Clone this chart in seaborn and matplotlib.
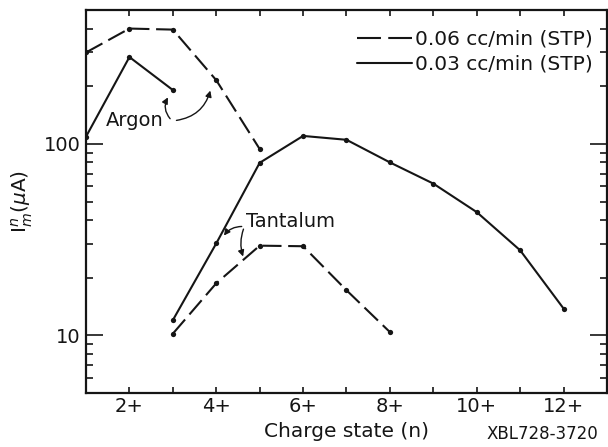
import numpy as np
import pandas as pd
import matplotlib
matplotlib.use("Agg")
import matplotlib.pyplot as plt
import seaborn as sns
from matplotlib.lines import Line2D
from matplotlib.ticker import LogLocator, NullFormatter, FixedLocator, FixedFormatter

# ---- data ----
argon_n_006 = [1, 2, 3, 4, 5]
argon_I_006 = [300, 400, 395, 215, 94]
argon_n_003 = [1, 2, 3]
argon_I_003 = [109, 284, 191]
tant_n_003 = [3, 4, 5, 6, 7, 8, 9, 10, 11, 12]
tant_I_003 = [12.0, 30.2, 79.6, 110, 105, 80, 62, 44, 27.8, 13.8]
tant_n_006 = [3, 4, 5, 6, 7, 8]
tant_I_006 = [10.2, 18.7, 29.4, 29.2, 17.2, 10.4]

x_ticks = [2, 4, 6, 8, 10, 12]
x_ticklabels = ["2+", "4+", "6+", "8+", "10+", "12+"]
y_ticks = [10, 100]
y_ticklabels = ["10", "100"]
legend_labels = ["0.06 cc/min (STP)", "0.03 cc/min (STP)"]

sns.set_style("ticks")
plt.rcParams["font.family"] = ["DejaVu Sans"]

ink = "#151515"
fig = plt.figure(figsize=(6.08, 4.47), dpi=100)
ax = fig.add_axes([86 / 608, 1 - 393 / 447, (607 - 86) / 608, (393 - 10) / 447])

dash = (9, 3.2)
lw = 1.5
ms = 3.8

def draw(xs, ys, dashed):
    df = pd.DataFrame({"n": xs, "I": ys})
    sns.lineplot(data=df, x="n", y="I", ax=ax, color=ink, lw=lw,
                 marker="o", markersize=ms, markeredgewidth=0,
                 estimator=None, legend=False,
                 dashes=False)
    line = ax.lines[-1]
    if dashed:
        line.set_dashes(dash)

draw(argon_n_006, argon_I_006, True)
draw(argon_n_003, argon_I_003, False)
draw(tant_n_003, tant_I_003, False)
draw(tant_n_006, tant_I_006, True)

ax.set_yscale("log")
ax.set_xlim(1, 13)
ax.set_ylim(5, 500)

ax.xaxis.set_major_locator(FixedLocator(x_ticks))
ax.xaxis.set_major_formatter(FixedFormatter(x_ticklabels))
ax.xaxis.set_minor_locator(FixedLocator(list(range(1, 14, 2))))
ax.yaxis.set_major_locator(FixedLocator(y_ticks))
ax.yaxis.set_major_formatter(FixedFormatter(y_ticklabels))
ax.yaxis.set_minor_locator(LogLocator(base=10, subs=np.arange(2, 10)))
ax.yaxis.set_minor_formatter(NullFormatter())

ax.tick_params(axis="x", which="both", direction="in", length=4.5, width=1.2,
               top=True, bottom=True, labelsize=14, pad=3, colors=ink)
ax.tick_params(axis="y", which="major", direction="in", length=12, width=1.2,
               left=True, right=True, labelsize=14, pad=4, colors=ink)
ax.tick_params(axis="y", which="minor", direction="in", length=5, width=1.2,
               left=True, right=True, colors=ink)
for s in ax.spines.values():
    s.set_linewidth(1.6)
    s.set_color(ink)

ax.set_xlabel("Charge state (n)", fontsize=14.5, color=ink, labelpad=4)
ax.set_ylabel(r"I$_m^n$($\mu$A)", fontsize=14.5, color=ink, labelpad=6)

fig.text(0.984, 0.008, "XBL728-3720", fontsize=12, ha="right", va="bottom", color=ink)

handles = [Line2D([], [], color=ink, lw=lw, dashes=(11.5, 3.5)),
           Line2D([], [], color=ink, lw=lw)]
leg = ax.legend(handles, legend_labels, loc="upper right", frameon=False,
                fontsize=14.5, handlelength=2.74, handletextpad=0.15,
                labelspacing=0.3, bbox_to_anchor=(1.0, 0.985), borderaxespad=0.3)
for t in leg.get_texts():
    t.set_color(ink)

# annotations
ax.text(2.13, 133, "Argon", fontsize=14, ha="center", va="center", color=ink)
aprops = dict(arrowstyle="-|>", color=ink, lw=1.0, mutation_scale=9)
ax.annotate("", xy=(2.92, 180), xytext=(2.98, 132),
            arrowprops=dict(aprops, connectionstyle="arc3,rad=-0.4"))
ax.annotate("", xy=(3.88, 196), xytext=(3.02, 132),
            arrowprops=dict(aprops, connectionstyle="arc3,rad=0.35"))

ax.text(5.72, 39.5, "Tantalum", fontsize=14, ha="center", va="center", color=ink)
ax.annotate("", xy=(4.14, 32.3), xytext=(4.65, 37),
            arrowprops=dict(aprops, connectionstyle="arc3,rad=0.3"))
ax.annotate("", xy=(4.64, 25.0), xytext=(4.65, 37),
            arrowprops=dict(aprops, connectionstyle="arc3,rad=0.2"))

fig.savefig("out.png", dpi=100)
